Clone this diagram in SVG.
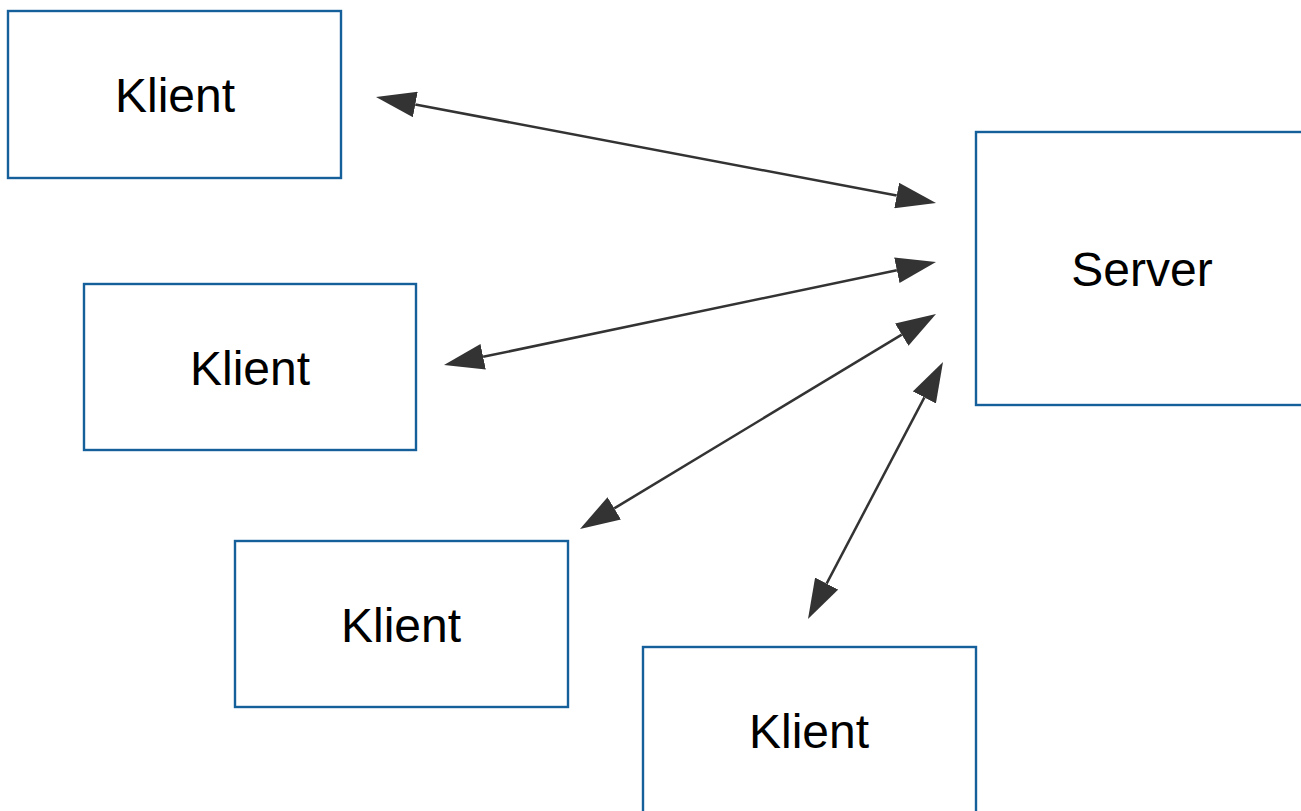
<svg xmlns="http://www.w3.org/2000/svg" width="1301" height="811" viewBox="0 0 1301 811">
<style>
.box{fill:#fff;stroke:#155f9b;stroke-width:2.4}
.lbl{font-family:"Liberation Sans",Arial,sans-serif;font-size:48px;fill:#000;text-anchor:middle}
.conn{stroke:#333;stroke-width:2.5;fill:none;marker-start:url(#ah);marker-end:url(#ah)}
</style>
<defs>
<marker id="ah" markerUnits="userSpaceOnUse" markerWidth="40" markerHeight="26" viewBox="0 -13 40 26" refX="0" refY="0" orient="auto-start-reverse">
<path d="M0,-13 L40,0 L0,13 z" fill="#333"/>
</marker>
</defs>
<rect width="1301" height="811" fill="#fff"/>
<g id="klient1"><rect class="box" x="8" y="11" width="333" height="167"/><text class="lbl" x="175" y="112">Klient</text></g>
<g id="klient2"><rect class="box" x="84" y="284" width="332" height="166"/><text class="lbl" x="250" y="385">Klient</text></g>
<g id="klient3"><rect class="box" x="235" y="541" width="333" height="166"/><text class="lbl" x="401" y="642">Klient</text></g>
<g id="klient4"><rect class="box" x="643" y="647" width="333" height="180"/><text class="lbl" x="809" y="748">Klient</text></g>
<g id="server"><rect class="box" x="976" y="132" width="340" height="273"/><text class="lbl" x="1142" y="286">Server</text></g>
<g id="connectors">
<line class="conn" x1="415.3" y1="104.44" x2="896.7" y2="195.56"/>
<line class="conn" x1="483.15" y1="356.8" x2="896.85" y2="270.2"/>
<line class="conn" x1="614.24" y1="508.32" x2="901.76" y2="334.68"/>
<line class="conn" x1="826.6" y1="583.59" x2="924.4" y2="397.41"/>
</g>
</svg>
